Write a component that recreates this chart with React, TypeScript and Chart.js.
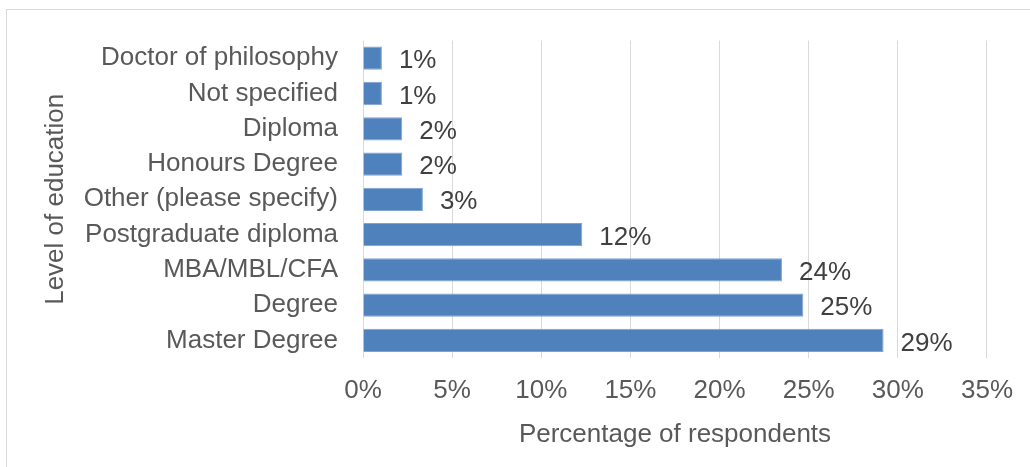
import React, { useEffect, useRef } from "react";
import { Chart, registerables } from "chart.js";

Chart.register(...registerables);

const categories = [
  "Doctor of philosophy",
  "Not specified",
  "Diploma",
  "Honours Degree",
  "Other (please specify)",
  "Postgraduate diploma",
  "MBA/MBL/CFA",
  "Degree",
  "Master Degree",
];
const values = [1.06, 1.06, 2.2, 2.2, 3.36, 12.3, 23.5, 24.7, 29.2];
const valueLabels = ["1%", "1%", "2%", "2%", "3%", "12%", "24%", "25%", "29%"];
const xTicks = [0, 5, 10, 15, 20, 25, 30, 35];

const FONT = "'Liberation Sans', Arial, sans-serif";
const FS = 26;

const labelPlugin = {
  id: "barLabels",
  afterDatasetsDraw(chart: any) {
    const ctx = chart.ctx;
    const meta = chart.getDatasetMeta(0);
    ctx.save();
    ctx.font = `${FS}px ${FONT}`;
    ctx.fillStyle = "#404040";
    ctx.textAlign = "left";
    ctx.textBaseline = "middle";
    meta.data.forEach((bar: any, i: number) => {
      ctx.fillText(valueLabels[i], bar.x + 17, bar.y + 3);
    });
    ctx.restore();
  },
};

export default function App() {
  const ref = useRef<HTMLCanvasElement | null>(null);
  useEffect(() => {
    if (!ref.current) return;
    const chart = new Chart(ref.current, {
      type: "bar",
      data: {
        labels: categories,
        datasets: [
          {
            data: values,
            backgroundColor: "#4F81BD",
            borderColor: "#7FA2D4",
            borderWidth: 1,
            categoryPercentage: 1,
            barPercentage: 0.66,
          },
        ],
      },
      options: {
        indexAxis: "y",
        animation: false,
        responsive: false,
        maintainAspectRatio: false,
        layout: { padding: { left: 0, right: 41, top: 39, bottom: 0 } },
        plugins: { legend: { display: false }, tooltip: { enabled: false } },
        scales: {
          x: {
            min: 0,
            max: 35,
            afterBuildTicks: (scale: any) => {
              scale.ticks = xTicks.map((v) => ({ value: v }));
            },
            afterFit: (scale: any) => {
              scale.height = 109;
            },
            ticks: {
              callback: (v: any) => v + "%",
              color: "#595959",
              font: { family: FONT, size: FS },
              padding: 17,
              maxRotation: 0,
            },
            grid: { color: "#D9D9D9", lineWidth: 1, drawTicks: false },
            border: { display: false },
            title: {
              display: true,
              text: "Percentage of respondents",
              color: "#595959",
              font: { family: FONT, size: FS },
              padding: { top: 0, bottom: 17 },
            },
          },
          y: {
            afterFit: (scale: any) => {
              scale.width = 363;
            },
            ticks: {
              color: "#595959",
              font: { family: FONT, size: FS },
              padding: 25,
              autoSkip: false,
            },
            grid: { display: false, drawTicks: false },
            border: { display: false },
            title: {
              display: true,
              text: "Level of education",
              color: "#595959",
              font: { family: FONT, size: FS },
              padding: { top: 40, bottom: 0 },
            },
          },
        },
      },
      plugins: [labelPlugin],
    });
    return () => chart.destroy();
  }, []);

  return (
    <div
      style={{
        position: "fixed",
        left: 0,
        top: 0,
        width: 1030,
        height: 467,
        overflow: "hidden",
        background: "#fff",
      }}
    >
      <div
        style={{
          position: "absolute",
          left: 6,
          top: 9,
          width: 1200,
          height: 700,
          borderTop: "1px solid #D9D9D9",
          borderLeft: "1px solid #D9D9D9",
        }}
      />
      <canvas
        ref={ref}
        width={1030}
        height={467}
        style={{ position: "absolute", left: 0, top: 0, width: 1030, height: 467 }}
      />
    </div>
  );
}
